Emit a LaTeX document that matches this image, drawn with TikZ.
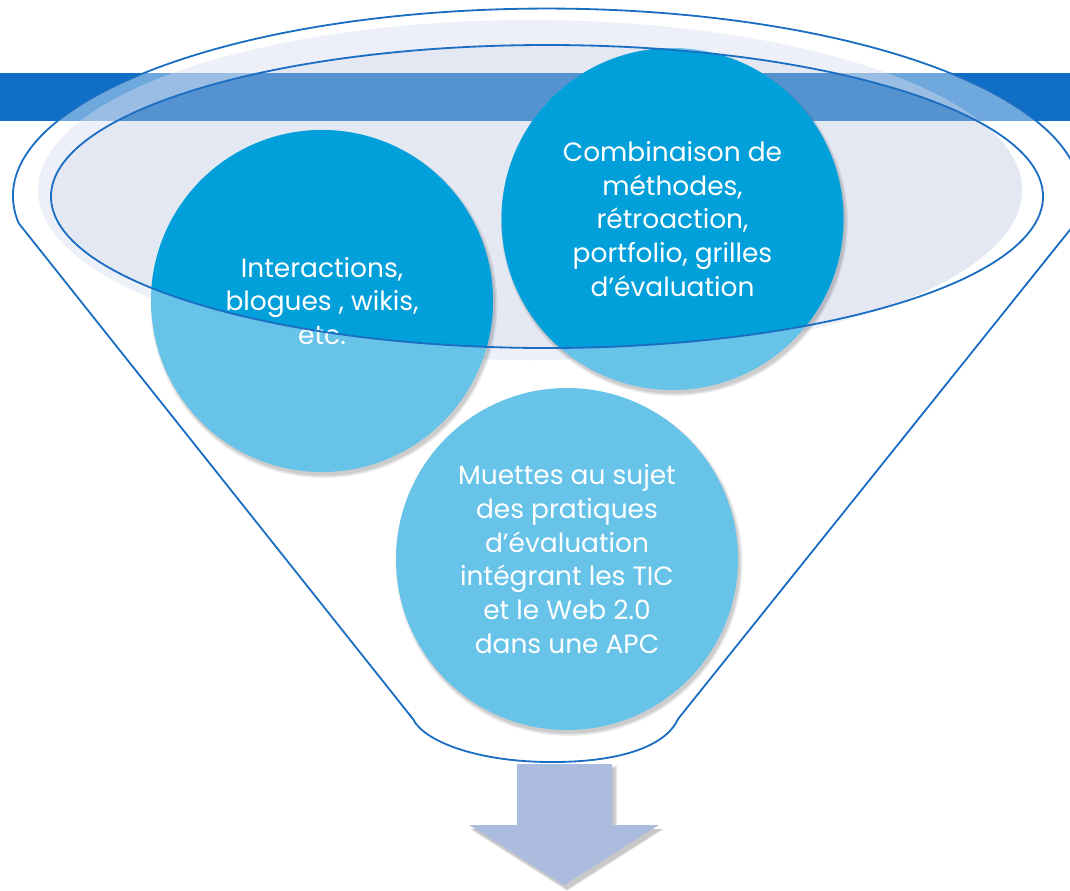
\documentclass[tikz,border=0pt]{standalone}
\usepackage{fontspec}
\setmainfont{Poppins}
\definecolor{bandc}{HTML}{0F6EC5}
\definecolor{bandW}{HTML}{6FA8DC}
\definecolor{bandL}{HTML}{9ABDE3}
\definecolor{bandD}{HTML}{5592D0}
\definecolor{ringL}{HTML}{EDF0F8}
\definecolor{ringD}{HTML}{E4E8F3}
\definecolor{cdark}{HTML}{01A0DA}
\definecolor{clight}{HTML}{67C3E8}
\definecolor{fline}{HTML}{1B6EC2}
\definecolor{arrowc}{HTML}{ABBCDF}
\begin{document}
\begin{tikzpicture}[x=0.025cm,y=-0.025cm,line join=round,
  txt/.style={text=white,align=center,inner sep=0pt,font=\fontsize{18.8}{24.1}\selectfont},
  fline/.style={draw=fline,line width=1.3pt},
  shade1/.style={fill=black,opacity=0.07}]
\useasboundingbox (0,0) rectangle (1070,890);
% light ring of funnel top
\fill[ringL] (530,190) ellipse[x radius=492,y radius=170];
\begin{scope}
  \clip (530,190) ellipse[x radius=492,y radius=170];
  \fill[ringD] (547,196.5) ellipse[x radius=496,y radius=151.5];
\end{scope}
% title band
\fill[bandc] (0,73) rectangle (1070,121);
\begin{scope}
  \clip (18.6,223.1) arc[start angle=171.7,end angle=368.3,x radius=534,y radius=187.5]
     -- (678,719) .. controls (668,742) and (630,762) .. (552,762)
     .. controls (474,762) and (423,740) .. (413,719) -- cycle;
  \fill[bandW] (0,73) rectangle (1070,121);
  \clip (530,190) ellipse[x radius=492,y radius=170];
  \fill[bandL] (0,73) rectangle (1070,121);
  \clip (547,196.5) ellipse[x radius=496,y radius=151.5];
  \fill[bandD] (0,73) rectangle (1070,121);
\end{scope}
% circle shadows
\foreach \cx/\cy in {322/301,672.5/219,567/559}{
  \foreach \d in {0,1.2,2.4}{
    \fill[shade1] (\cx+2,\cy+3.5) circle[radius=171+\d];
  }
}
% circles (light)
\foreach \cx/\cy in {322/301,672.5/219,567/559}{
  \fill[clight] (\cx,\cy) circle[radius=171];
}
% circles (dark part inside funnel top)
\begin{scope}
  \clip (547,196.5) ellipse[x radius=496,y radius=151.5];
  \foreach \cx/\cy in {322/301,672.5/219,567/559}{
    \fill[cdark] (\cx,\cy) circle[radius=171];
  }
\end{scope}
% texts
\node[txt] (A) at (322,301) {Interactions,\\blogues , wikis,\\etc.};
\node[txt] (B) at (672.5,219) {Combinaison de\\méthodes,\\rétroaction,\\portfolio, grilles\\d’évaluation};
\node[txt] (C) at (567,559) {Muettes au sujet\\des pratiques\\d’évaluation\\intégrant les TIC\\et le Web 2.0\\dans une APC};
% outlines
\draw[fline] (547,196.5) ellipse[x radius=496,y radius=151.5];
\draw[fline] (18.6,223.1) arc[start angle=171.7,end angle=368.3,x radius=534,y radius=187.5]
     -- (678,719) .. controls (668,742) and (630,762) .. (552,762)
     .. controls (474,762) and (423,740) .. (413,719) -- cycle;
% arrow
\foreach \d in {0,1,2}{
  \fill[black,opacity=0.08] (517+3,764+4-\d) -- (612+3+\d,764+4-\d) -- (612+3+\d,825+4) -- (659+3+\d,825+4)
     -- (564+3,885+4+\d) -- (469+3-\d,825+4) -- (517+3-\d,825+4) -- cycle;
}
\fill[arrowc] (517,764) -- (612,764) -- (612,825) -- (659,825) -- (564,885) -- (469,825) -- (517,825) -- cycle;
\end{tikzpicture}
\end{document}
